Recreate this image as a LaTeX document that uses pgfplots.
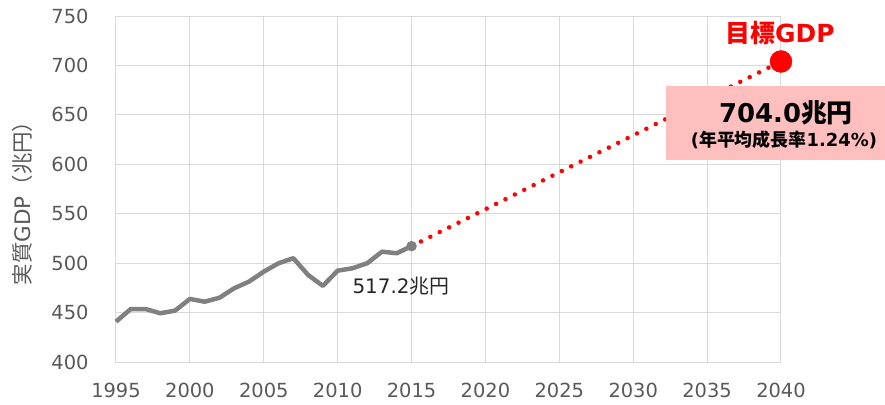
\documentclass[border=0pt]{standalone}
\usepackage{pgfplots}
\pgfplotsset{compat=1.18}
\usepackage{fontspec}
\setmainfont{Noto Sans CJK JP}
\newfontfamily\dv{DejaVu Sans}
\definecolor{gridgray}{HTML}{D9D9D9}
\definecolor{linegray}{HTML}{808080}
\definecolor{ticktext}{HTML}{595959}
\definecolor{targetred}{HTML}{FF0000}
\definecolor{boxpink}{HTML}{FFBFBF}
\definecolor{darktext}{HTML}{262626}

\begin{document}
\begin{tikzpicture}
\begin{axis}[
  at={(0,0)}, anchor=south west,
  scale only axis, width=665bp, height=346bp,
  xmin=1995, xmax=2040, ymin=400, ymax=750,
  xtick={1995,2000,...,2040}, ytick={400,450,...,750},
  grid=major, major grid style={gridgray, line width=1bp},
  axis line style={gridgray, line width=1bp},
  major tick length=0pt,
  /pgf/number format/assume math mode=true,
  /pgf/number format/1000 sep={},
  tick label style={font=\dv\fontsize{19.5}{22}\selectfont, text=ticktext},
  xticklabel style={yshift=-18bp},
  yticklabel style={xshift=-24bp},
  clip=false,
]
% path from the current level to the 2040 target
\addplot[targetred, line width=4.5bp, line cap=round, dash pattern=on 0pt off 10.5bp]
  coordinates {(2015,517.2) (2040,704.0)};
% actual real GDP, 1995--2015
\addplot[linegray, line width=4.5bp, line join=round] coordinates {
  (1995,440.8) (1996,453.6) (1997,453.6) (1998,449.3) (1999,452.0)
  (2000,463.8) (2001,461.0) (2002,465.0) (2003,474.6) (2004,481.3)
  (2005,491.4) (2006,499.9) (2007,505.0) (2008,488.0) (2009,477.0)
  (2010,492.4) (2011,494.8) (2012,499.9) (2013,511.6) (2014,510.0)
  (2015,517.2)};
\addplot[only marks, mark=*, mark size=5bp, linegray] coordinates {(2015,517.2)};
\addplot[only marks, mark=*, mark size=11bp, targetred] coordinates {(2040,704.0)};
\end{axis}

% axis title
\node[rotate=90, text=ticktext, font=\fontsize{21.5}{24}\selectfont] at (-94bp,164bp) {実質{\dv GDP}（兆円）};

% value labels
\node[text=darktext, font=\fontsize{20}{22}\selectfont] at (285bp,76bp) {{\dv 517.2}兆円};
\node[text=targetred, font=\fontsize{25}{28}\selectfont\bfseries] at (664bp,329bp) {目標{\dv\bfseries GDP}};

\fill[boxpink] (550bp,202bp) rectangle (769bp,276bp);
\node[text=black, font=\fontsize{26}{30}\selectfont\bfseries] at (670bp,249bp) {{\dv\bfseries 704.0}兆円};
\node[text=black, font=\fontsize{18}{20}\selectfont\bfseries] at (668bp,222bp) {{\dv\bfseries (}年平均成長率{\dv\bfseries 1.24\%)}};

\path[use as bounding box] (-116bp,-43bp) rectangle (769bp,362bp);
\end{tikzpicture}
\end{document}
